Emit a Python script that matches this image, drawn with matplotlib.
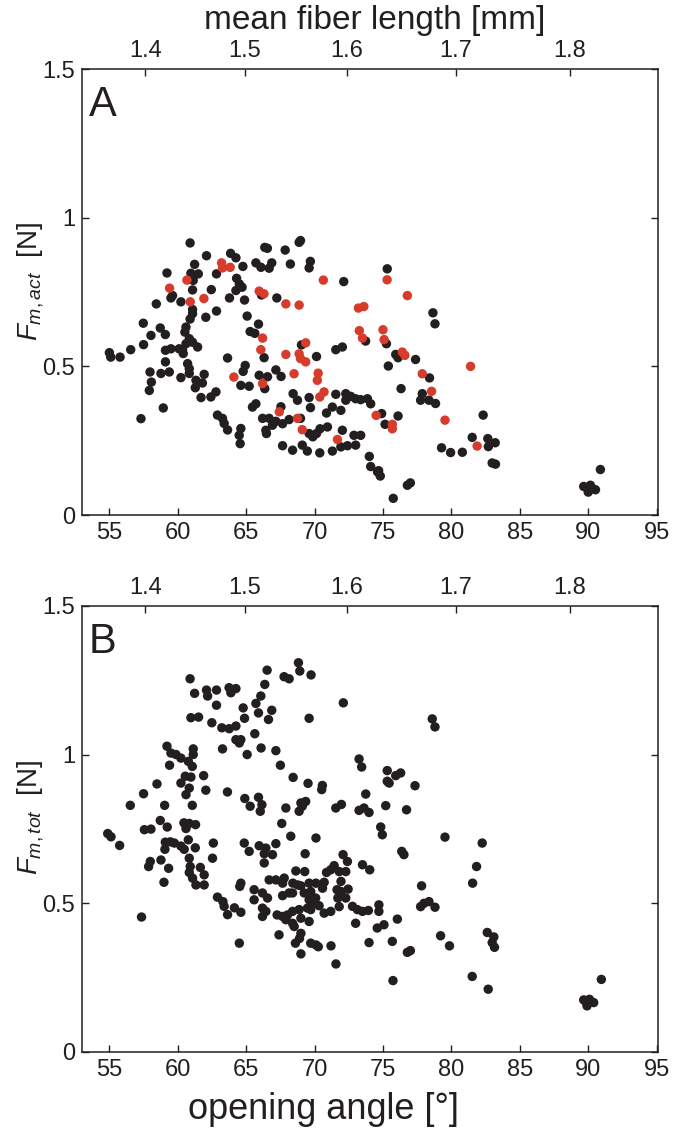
import matplotlib
matplotlib.use("Agg")
import matplotlib.pyplot as plt

plt.rcParams["font.family"] = ["Liberation Sans", "DejaVu Sans"]
plt.rcParams["mathtext.fontset"] = "custom"
plt.rcParams["mathtext.rm"] = "Liberation Sans"
plt.rcParams["mathtext.it"] = "Liberation Sans:italic"

# panel A, black points (opening angle [deg], F_m,act [N])
a_black_x = [60.9, 62.1, 63.86, 64.25, 66.36, 66.55, 67.85, 68.87, 68.97, 61.23, 59.21, 64.76, 65.71,
             66.08, 66.87, 66.68, 68.23, 69.69, 69.6, 60.96, 61.5, 61.13, 62.83, 61.08, 64.3, 64.5, 64.7,
             64.25, 62.45, 72.13, 66.12, 67.24, 64.88, 63.78, 59.62, 59.5, 60.23, 58.43, 61.08, 61.08, 62.83,
             62.05, 65.07, 65.9, 60.9, 57.48, 58.72, 59.09, 58.04, 60.6, 60.52, 65.29, 65.63,
             75.31, 78.65, 78.8,
             73.73, 60.84, 61.08, 61.45, 60.6, 60.35, 60.1, 59.5, 59.1, 57.5, 55.0, 55.1, 55.78, 56.56, 60.4,
             59.1, 57.97, 58.77, 59.38, 58.07, 57.92, 58.94, 57.31, 60.23, 60.72, 60.84, 60.84, 61.33, 61.28,
             61.93, 61.8, 61.7, 62.42, 62.79, 63.64, 64.61, 64.78, 64.93, 65.22, 62.9, 63.27, 63.39, 63.64,
             64.61, 64.49, 64.56, 65.46, 65.71, 66.31, 65.95, 66.36, 66.56, 67.17, 67.55, 68.43, 68.75, 69.04,
             70.14, 69.6, 69.7, 71.55, 72.03, 71.55, 72.28, 72.64, 73.0, 73.37, 73.86, 74.1, 71.3, 70.87,
             71.92, 72.28, 70.94, 72.03, 70.4, 70.14, 69.87, 69.6, 68.97, 68.14, 67.66, 67.17, 66.68, 66.2,
             66.92, 67.54, 66.44, 66.48, 67.66, 68.39, 69.1, 69.47, 70.38, 71.3, 71.92, 72.4, 73.0, 72.88,
             73.37, 74.0, 74.1, 74.6,
             75.25, 75.93, 76.1, 75.39, 77.38, 78.4, 76.32, 77.87, 77.75, 78.36, 78.84, 82.32, 81.52, 82.66,
             83.2, 82.7, 79.28, 79.94, 80.8, 82.98, 83.22, 74.9, 76.1, 75.15, 74.68, 74.8, 75.75, 76.78, 77.0,
             90.89, 89.67, 90.16, 90.53, 90.0, 90.28]
a_black_y = [0.915, 0.872, 0.880, 0.865, 0.900, 0.897, 0.891, 0.917, 0.923, 0.843, 0.814, 0.836, 0.848,
             0.833, 0.848, 0.830, 0.844, 0.853, 0.831, 0.813, 0.811, 0.789, 0.811, 0.757, 0.796, 0.777, 0.766,
             0.755, 0.758, 0.785, 0.740, 0.730, 0.723, 0.730, 0.738, 0.730, 0.717, 0.710, 0.691, 0.677, 0.686,
             0.665, 0.669, 0.642, 0.659, 0.645, 0.629, 0.607, 0.604, 0.632, 0.615, 0.617, 0.611,
             0.828, 0.680, 0.643,
             0.585, 0.593, 0.581, 0.565, 0.576, 0.556, 0.559, 0.559, 0.554, 0.573, 0.546, 0.531, 0.531, 0.556,
             0.543, 0.515, 0.481, 0.476, 0.481, 0.447, 0.419, 0.360, 0.324, 0.462, 0.509, 0.492, 0.476, 0.453,
             0.428, 0.473, 0.444, 0.395, 0.397, 0.414, 0.528, 0.436, 0.483, 0.503, 0.433, 0.336, 0.325, 0.308,
             0.286, 0.291, 0.268, 0.240, 0.363, 0.374, 0.529, 0.470, 0.425, 0.465, 0.488, 0.466, 0.408, 0.386,
             0.572, 0.533, 0.395, 0.361, 0.556, 0.565, 0.406, 0.408, 0.399, 0.391, 0.388, 0.391, 0.374, 0.363,
             0.343, 0.352, 0.386, 0.296, 0.285, 0.290, 0.274, 0.263, 0.274, 0.325, 0.321, 0.307, 0.315, 0.325,
             0.325, 0.302, 0.364, 0.285, 0.274, 0.233, 0.218, 0.235, 0.215, 0.209, 0.215, 0.229, 0.233, 0.235,
             0.268, 0.268, 0.197, 0.163, 0.145,
             0.576, 0.540, 0.529, 0.501, 0.523, 0.461, 0.425, 0.408, 0.386, 0.386, 0.375, 0.336, 0.261, 0.257,
             0.243, 0.230, 0.226, 0.210, 0.211, 0.175, 0.171, 0.341, 0.333, 0.305, 0.149, 0.131, 0.056, 0.100,
             0.108, 0.153, 0.096, 0.100, 0.085, 0.077, 0.090]

# panel A, red points
a_red_x = [63.2, 63.27, 63.83, 60.67, 59.4, 70.64, 65.95, 66.3, 61.91, 60.91, 67.9, 68.87, 73.2, 73.6,
           73.27, 73.5, 66.2, 75.3, 76.78, 75.0,
           64.1, 66.07, 66.2, 67.9, 68.5, 68.87, 69.35, 68.97, 69.35, 70.26, 70.2, 70.69, 70.38, 69.1,
           68.75, 67.42, 71.67, 74.5,
           75.08, 76.41, 76.6, 77.87, 78.55, 81.4, 79.53, 81.88, 75.68, 75.68]
a_red_y = [0.848, 0.831, 0.833, 0.790, 0.763, 0.790, 0.753, 0.744, 0.728, 0.717, 0.710, 0.706, 0.696, 0.701,
           0.620, 0.595, 0.595, 0.791, 0.738, 0.623,
           0.464, 0.556, 0.442, 0.540, 0.475, 0.542, 0.579, 0.526, 0.515, 0.477, 0.453, 0.414, 0.397, 0.287,
           0.325, 0.347, 0.254, 0.335,
           0.590, 0.548, 0.537, 0.475, 0.416, 0.500, 0.319, 0.232, 0.305, 0.290]

# panel B (opening angle [deg], F_m,tot [N])
b_x = [60.9, 61.23, 62.1, 62.18, 62.83, 62.83, 63.75, 63.88, 64.25, 66.53, 67.77, 68.14, 68.82, 68.92,
       69.74, 66.36, 66.07, 65.71, 64.78, 65.9, 66.87, 66.63, 64.88, 72.1, 69.6, 60.96, 61.52, 62.49,
       63.22, 63.76, 64.25, 65.63, 64.25, 64.61, 64.5, 63.27, 65.07, 66.09, 67.17, 67.5, 68.43, 69.52,
       70.57, 70.52, 59.21, 59.5, 59.87, 60.23, 61.13, 61.13, 60.77, 61.06, 59.4, 61.89, 60.55, 60.96,
       60.23, 60.84, 60.6, 62.05, 58.48, 57.5, 56.53, 59.04, 61.06, 63.63, 64.9, 65.29, 65.9, 66.15,
       66.03, 67.9, 69.0, 69.35, 68.87, 69.1, 67.6, 71.55, 71.96, 73.25, 73.61, 73.98, 73.25, 73.44,
       73.74, 58.72, 59.23, 57.56, 58.04, 54.88, 55.12, 55.75, 60.45, 60.84, 61.3, 60.6, 60.77, 59.09,
       59.45, 59.75, 60.23, 60.47, 61.28, 59.06, 62.6, 64.86, 62.54, 58.77, 57.99, 57.87, 59.33, 60.84,
       60.91, 61.65,
       61.93, 60.84, 61.08, 61.33, 61.93, 58.99, 57.35, 62.9, 63.3, 63.39, 63.64, 64.14, 64.61, 64.61,
       64.53, 64.5,
       68.26, 70.1, 65.95, 66.44, 66.32, 66.92, 67.17, 66.32, 65.22, 69.31, 72.08, 72.4, 72.28, 71.8,
       71.43, 71.18, 70.87, 73.5, 74.03, 68.63, 69.28, 66.68, 67.17, 67.78, 67.66, 68.41, 68.77, 69.0,
       69.6, 70.1, 70.7, 70.58, 71.93, 71.93, 71.64, 71.7, 72.45, 65.58, 65.58, 66.19, 66.56, 67.66,
       68.14, 68.39, 69.24, 69.72, 69.6, 70.08, 69.96, 70.33, 69.72, 69.48, 66.19, 66.44, 66.19, 67.26,
       67.66, 68.02, 67.9, 68.39, 68.87, 69.0, 68.39, 68.51, 69.6, 70.7, 71.18, 71.8, 72.28, 72.77,
       73.13, 73.5, 73.93, 74.7, 74.7, 73.0, 74.58, 75.07, 67.4, 69.0, 68.9, 68.6, 69.72, 70.1, 70.27,
       71.2, 73.98, 69.0, 71.56,
       78.6, 78.8, 75.31, 75.31, 75.45, 75.93, 76.29, 77.34, 75.2, 76.72, 74.83, 74.95, 79.53, 82.25,
       76.37, 76.53, 81.84,
       77.82, 77.75, 77.99, 78.36, 78.8, 76.05, 79.21, 79.86, 82.62, 83.1, 82.98, 83.15, 81.55, 75.68,
       76.78, 77.0,
       75.73, 81.52, 82.69, 90.96, 89.67, 90.09, 90.4, 89.91, 89.8]
b_y = [1.255, 1.206, 1.217, 1.197, 1.217, 1.166, 1.225, 1.208, 1.222, 1.284, 1.262, 1.255, 1.309, 1.281,
       1.268, 1.236, 1.197, 1.172, 1.157, 1.140, 1.149, 1.118, 1.122, 1.174, 1.122, 1.124, 1.126, 1.107,
       1.090, 1.087, 1.096, 1.070, 1.050, 1.050, 1.039, 1.019, 1.000, 1.022, 1.013, 0.964, 0.923, 0.903,
       0.896, 0.882, 1.028, 1.005, 1.000, 0.988, 1.019, 1.000, 0.977, 0.960, 0.964, 0.929, 0.927, 0.924,
       0.904, 0.887, 0.865, 0.880, 0.901, 0.868, 0.829, 0.829, 0.829, 0.874, 0.852, 0.826, 0.856, 0.831,
       0.809, 0.820, 0.837, 0.842, 0.809, 0.826, 0.768, 0.820, 0.832, 0.812, 0.820, 0.805, 0.985, 0.958,
       0.867, 0.778, 0.756, 0.747, 0.749, 0.734, 0.723, 0.694, 0.770, 0.768, 0.764, 0.751, 0.713, 0.705,
       0.706, 0.702, 0.692, 0.681, 0.686, 0.681, 0.702, 0.702, 0.651, 0.645, 0.640, 0.623, 0.617, 0.651,
       0.623, 0.620,
       0.595, 0.603, 0.584, 0.561, 0.561, 0.570, 0.453, 0.520, 0.505, 0.489, 0.461, 0.484, 0.469, 0.567,
       0.556, 0.365,
       0.725, 0.719, 0.693, 0.685, 0.666, 0.663, 0.700, 0.635, 0.674, 0.666, 0.663, 0.640, 0.606, 0.606,
       0.626, 0.612, 0.603, 0.629, 0.612, 0.608, 0.606, 0.578, 0.578, 0.584, 0.567, 0.567, 0.561, 0.558,
       0.567, 0.567, 0.570, 0.550, 0.573, 0.539, 0.545, 0.517, 0.547, 0.545, 0.511, 0.534, 0.517, 0.525,
       0.534, 0.534, 0.534, 0.539, 0.511, 0.517, 0.500, 0.491, 0.478, 0.483, 0.483, 0.472, 0.455, 0.460,
       0.455, 0.460, 0.444, 0.472, 0.478, 0.449, 0.432, 0.421, 0.438, 0.466, 0.472, 0.488, 0.517, 0.489,
       0.478, 0.472, 0.475, 0.494, 0.472, 0.432, 0.416, 0.427, 0.393, 0.398, 0.381, 0.365, 0.365, 0.359,
       0.353, 0.356, 0.367, 0.329, 0.295,
       1.120, 1.093, 0.946, 0.910, 0.904, 0.929, 0.938, 0.895, 0.828, 0.814, 0.756, 0.730, 0.722, 0.702,
       0.674, 0.663, 0.623,
       0.558, 0.488, 0.499, 0.505, 0.486, 0.446, 0.390, 0.356, 0.401, 0.386, 0.367, 0.351, 0.567, 0.371,
       0.334, 0.340,
       0.239, 0.253, 0.210, 0.243, 0.174, 0.176, 0.165, 0.154, 0.170]

# top axis: mean fiber length labels and the opening angle where each falls
fiber_labels = ["1.4", "1.5", "1.6", "1.7", "1.8"]
fiber_at_angle = [57.63, 64.89, 72.37, 80.33, 88.65]

x_ticks = [55, 60, 65, 70, 75, 80, 85, 90, 95]
y_ticks = [0, 0.5, 1, 1.5]
y_ticklabels = ["0", "0.5", "1", "1.5"]

black = "#231f20"
red = "#d63b2b"
tick_fs = 17

fig = plt.figure(figsize=(6.73, 11.40), dpi=100)
ax_a = fig.add_axes([82 / 673, 1 - 515 / 1140, 576 / 673, 446 / 1140])
ax_b = fig.add_axes([82 / 673, 1 - 1051.6 / 1140, 576 / 673, 445.6 / 1140])

ax_a.scatter(a_black_x, a_black_y, s=46, color=black, edgecolors="none", zorder=3)
ax_a.scatter(a_red_x, a_red_y, s=46, color=red, edgecolors="none", zorder=4)
ax_b.scatter(b_x, b_y, s=46, color=black, edgecolors="none", zorder=3)

for ax, letter, ylab in [(ax_a, "A", r"$F_{m,act}$  [N]"), (ax_b, "B", r"$F_{m,tot}$  [N]")]:
    ax.set_xlim(53, 95.1)
    ax.set_ylim(0, 1.5)
    ax.set_xticks(x_ticks)
    ax.set_yticks(y_ticks)
    ax.set_yticklabels(y_ticklabels)
    ax.tick_params(direction="in", length=5, width=1, labelsize=tick_fs, right=True, top=False,
                   colors=black, pad=5)
    for sp in ax.spines.values():
        sp.set_linewidth(1.1)
        sp.set_color(black)
    ax.set_ylabel(ylab, fontsize=20, color=black)
    ax.yaxis.set_label_coords(-0.062, 0.525)
    ax.text(0.012, 0.965, letter, transform=ax.transAxes, fontsize=30, va="top", ha="left",
            color=black)

    top = ax.twiny()
    top.set_xlim(ax.get_xlim())
    top.set_xticks(fiber_at_angle)
    top.set_xticklabels(fiber_labels)
    top.tick_params(direction="in", length=5, width=1, labelsize=tick_fs, colors=black, pad=5)
    for sp in top.spines.values():
        sp.set_visible(False)

ax_a.set_xticklabels([str(t) for t in x_ticks])
ax_b.set_xticklabels([str(t) for t in x_ticks])
ax_b.set_xlabel("opening angle [°]", fontsize=26, color=black)
ax_b.xaxis.set_label_coords((324 - 82) / 576, -0.09)
fig.text(375 / 673, 1 - 20 / 1140, "mean fiber length [mm]", fontsize=24, ha="center", va="center",
         color=black)

fig.savefig("out.png", dpi=100)
